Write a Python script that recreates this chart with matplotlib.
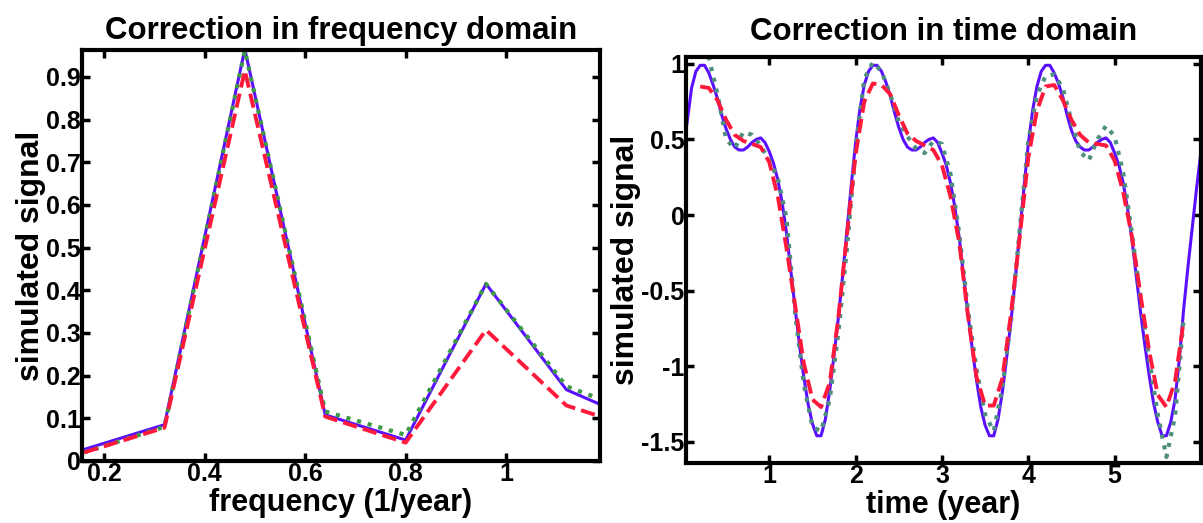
import numpy as np
import matplotlib.pyplot as plt
from matplotlib.ticker import FuncFormatter

plt.rcParams['font.family'] = ['Liberation Sans', 'DejaVu Sans']
plt.rcParams['font.weight'] = 'bold'

# ---- frequency domain (left) ----
freq = [0.16, 0.32, 0.48, 0.64, 0.80, 0.96, 1.12, 1.28]
amp_true = [0.027, 0.085, 0.965, 0.108, 0.049, 0.415, 0.167, 0.085]
amp_ref = [0.020, 0.080, 0.962, 0.116, 0.061, 0.415, 0.175, 0.104]
amp_corr = [0.020, 0.078, 0.915, 0.104, 0.043, 0.307, 0.130, 0.069]

# ---- time domain (right) ----
# true signal, read every 0.05 year from t=0 to t=6
t_full = [round(0.05 * i, 2) for i in range(121)]
sig_true = [
    0.42, 0.62, 0.84, 0.95, 0.99, 0.99, 0.94, 0.86, 0.77, 0.66,
    0.57, 0.50, 0.45, 0.43, 0.43, 0.45, 0.48, 0.50, 0.51, 0.48,
    0.42, 0.34, 0.23, 0.08, -0.12, -0.37, -0.62, -0.86, -1.07, -1.25,
    -1.38, -1.46, -1.46, -1.35, -1.16, -0.93, -0.68, -0.40, -0.10, 0.20,
    0.48, 0.70, 0.86, 0.95, 0.99, 0.99, 0.95, 0.88, 0.79, 0.68,
    0.58, 0.50, 0.45, 0.43, 0.43, 0.45, 0.48, 0.50, 0.51, 0.48,
    0.41, 0.33, 0.21, 0.05, -0.15, -0.40, -0.65, -0.88, -1.09, -1.27,
    -1.39, -1.46, -1.46, -1.35, -1.17, -0.94, -0.70, -0.42, -0.12, 0.18,
    0.47, 0.69, 0.85, 0.95, 0.99, 0.99, 0.94, 0.87, 0.78, 0.66,
    0.56, 0.49, 0.45, 0.43, 0.43, 0.45, 0.48, 0.50, 0.51, 0.48,
    0.41, 0.33, 0.21, 0.04, -0.16, -0.40, -0.64, -0.86, -1.06, -1.24,
    -1.37, -1.46, -1.46, -1.37, -1.22, -0.95, -0.62, -0.34, -0.08, 0.18,
    0.42]

# reference and corrected signals, read every 0.1 year from t=0.2 to t=5.8
t_part = [round(0.2 + 0.1 * i, 1) for i in range(57)]
sig_ref = [1.10, 1.04, 0.80, 0.50, 0.44, 0.55, 0.53, 0.46,
           0.36, 0.24, -0.02, -0.65, -1.12, -1.40, -1.43, -1.22, -0.78, -0.22,
           0.43, 0.90, 1.01, 0.95, 0.80, 0.62, 0.52, 0.44, 0.41, 0.49,
           0.47, 0.27, -0.12, -0.62, -1.02, -1.32, -1.43, -1.14, -0.70, -0.10,
           0.49, 0.79, 0.92, 0.93, 0.84, 0.62, 0.42, 0.36, 0.50, 0.59,
           0.52, 0.28, -0.12, -0.55, -0.95, -1.32, -1.60, -1.33, -0.68]
sig_corr = [0.85, 0.84, 0.76, 0.63, 0.53, 0.49, 0.47, 0.45,
            0.35, 0.12, -0.22, -0.60, -0.98, -1.22, -1.27, -1.11, -0.68, -0.13,
            0.40, 0.75, 0.87, 0.86, 0.80, 0.66, 0.54, 0.49, 0.46, 0.43,
            0.33, 0.12, -0.18, -0.66, -1.07, -1.26, -1.26, -1.08, -0.65, -0.15,
            0.38, 0.69, 0.85, 0.86, 0.76, 0.63, 0.53, 0.48, 0.47, 0.46,
            0.36, 0.15, -0.14, -0.53, -0.90, -1.19, -1.27, -1.10, -0.70]

blue = '#5a10ff'
red = '#ff1a3c'
green_l = '#3d9a46'
green_r = '#4f8f80'

fig = plt.figure(figsize=(12.03, 5.23), dpi=100)
ax1 = fig.add_axes([0.0682, 0.1186, 0.4306, 0.7858])
ax2 = fig.add_axes([0.5702, 0.1147, 0.4281, 0.7763])


def style(ax):
    for s in ax.spines.values():
        s.set_linewidth(3)
    ax.tick_params(direction='in', length=6, width=2.5, top=True, right=True,
                   labelsize=18, pad=1)
    for lab in ax.get_xticklabels() + ax.get_yticklabels():
        lab.set_fontweight('bold')


fmt = FuncFormatter(lambda v, p: '%g' % round(v, 2))

ax1.plot(freq, amp_true, '-', color=blue, lw=2.2)
ax1.plot(freq, amp_ref, ':', color=green_l, lw=3)
ax1.plot(freq, amp_corr, '--', color=red, lw=2.8)
ax1.set_xlim(0.156, 1.187)
ax1.set_ylim(0, 0.963)
ax1.set_xticks([0.2, 0.4, 0.6, 0.8, 1.0])
ax1.set_yticks(np.arange(0, 1.0, 0.1))
ax1.xaxis.set_major_formatter(fmt)
ax1.yaxis.set_major_formatter(fmt)
style(ax1)
ax1.set_title('Correction in frequency domain', fontsize=22.5, fontweight='bold', pad=8)
ax1.set_xlabel('frequency (1/year)', fontsize=22, fontweight='bold', labelpad=1)
ax1.set_ylabel('simulated signal', fontsize=23, fontweight='bold', labelpad=0)

ax2.plot(t_full, sig_true, '-', color=blue, lw=2.2)
ax2.plot(t_part, sig_ref, ':', color=green_r, lw=3)
ax2.plot(t_part, sig_corr, '--', color=red, lw=2.8)
ax2.set_xlim(0.035, 6.0)
ax2.set_ylim(-1.64, 1.045)
ax2.set_xticks([1, 2, 3, 4, 5])
ax2.set_yticks([-1.5, -1, -0.5, 0, 0.5, 1])
ax2.xaxis.set_major_formatter(fmt)
ax2.yaxis.set_major_formatter(fmt)
style(ax2)
ax2.set_title('Correction in time domain', fontsize=22.5, fontweight='bold', pad=12)
ax2.set_xlabel('time (year)', fontsize=22, fontweight='bold', labelpad=1)
ax2.set_ylabel('simulated signal', fontsize=23, fontweight='bold', labelpad=0)

fig.savefig('out.png', dpi=100)
